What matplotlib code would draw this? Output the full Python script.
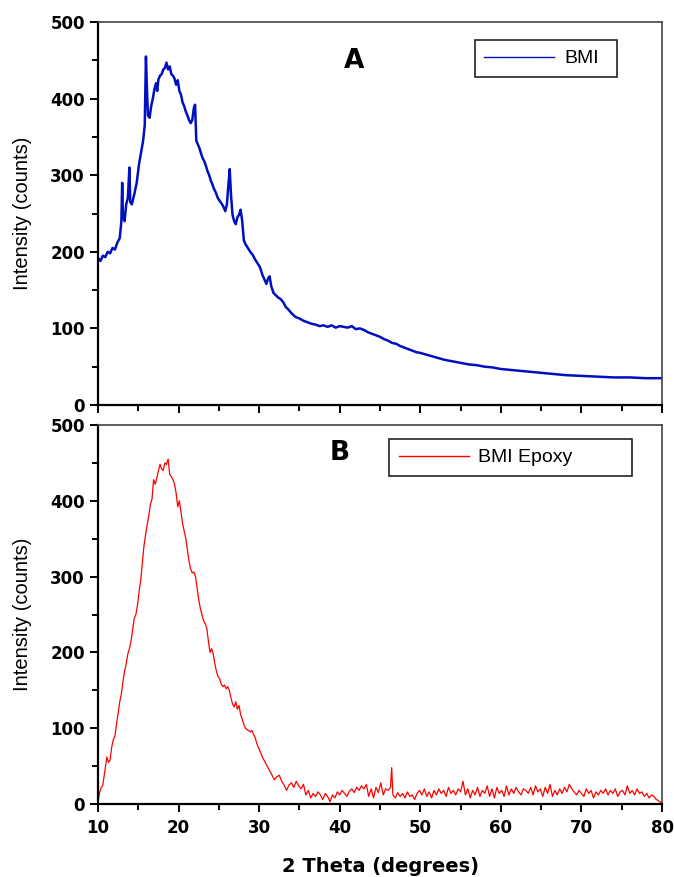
import matplotlib.pyplot as plt
from matplotlib.ticker import MultipleLocator

# panel A: BMI
bmi_x = [10.0, 10.3, 10.6, 10.9, 11.2, 11.5, 11.8, 12.1, 12.4, 12.7, 12.9, 13.0, 13.1, 13.3, 13.5,
         13.7, 13.9, 14.0, 14.2, 14.5, 14.8, 15.1, 15.4, 15.6, 15.8, 15.95, 16.05, 16.2, 16.4, 16.6,
         16.8, 17.0, 17.2, 17.35, 17.5, 17.7, 17.9, 18.1, 18.3, 18.5, 18.7, 18.9, 19.1, 19.3, 19.5,
         19.7, 19.9, 20.1, 20.3, 20.5, 20.7, 20.9, 21.1, 21.3, 21.5, 21.7, 21.9, 22.05, 22.2, 22.4,
         22.6, 22.8, 23.0, 23.2, 23.4, 23.6, 23.8, 24.0, 24.2, 24.4, 24.6, 24.8, 25.0, 25.2, 25.4,
         25.6, 25.8, 26.0, 26.2, 26.35, 26.5, 26.7, 26.9, 27.1, 27.3, 27.5, 27.7, 27.9, 28.1, 28.3,
         28.6, 28.9, 29.2, 29.5, 29.8, 30.1, 30.4, 30.7, 30.9, 31.1, 31.3, 31.5, 31.8, 32.1, 32.4,
         32.7, 33.0, 33.3, 33.6, 34.0, 34.5, 35.0, 35.5, 36.0, 36.5, 37.0, 37.5, 38.0, 38.5, 39.0,
         39.5, 40.0, 40.5, 41.0, 41.5, 42.0, 42.5, 43.0, 43.5, 44.0, 44.5, 45.0, 45.5, 46.0, 46.5,
         47.0, 47.5, 48.0, 48.5, 49.0, 49.5, 50.0, 51, 52, 53, 54, 55, 56, 57, 58, 59, 60, 62, 64,
         66, 68, 70, 72, 74, 76, 78, 80]
bmi_y = [192, 188, 195, 193, 200, 198, 205, 203, 212, 218, 240, 290, 245, 240, 262,
         270, 310, 265, 262, 275, 290, 315, 333, 345, 365, 455, 420, 378, 375, 390,
         400, 412, 420, 410, 425, 430, 432, 438, 440, 447, 438, 442, 432, 430, 426,
         418, 424, 410, 405, 395, 390, 383, 378, 372, 368, 372, 388, 392, 345, 340,
         335, 328, 322, 318, 312, 305, 300, 293, 288, 282, 278, 272, 268, 265, 262,
         258, 253, 262, 290, 308, 275, 248, 240, 236, 245, 248, 255, 240, 215, 210,
         205, 200, 196, 190, 185, 180, 170, 163, 158, 165, 168, 155, 146, 143, 140,
         138, 134, 128, 125, 120, 115, 113, 110, 108, 106, 105, 103, 104, 102, 104,
         101, 103, 102, 101, 103, 99, 100, 98, 95, 93, 91, 89, 86, 84, 81,
         80, 77, 75, 73, 71, 69, 68, 65, 62, 59, 57, 55, 53, 52, 50, 49, 47, 45, 43,
         41, 39, 38, 37, 36, 36, 35, 35]

# panel B: BMI Epoxy
epx_x = [10.0, 10.2, 10.4, 10.6, 10.8, 11.0, 11.1, 11.3, 11.5, 11.7, 11.9, 12.1, 12.3, 12.5, 12.7,
         12.9, 13.1, 13.3, 13.5, 13.7, 13.9, 14.1, 14.3, 14.5, 14.7, 14.9, 15.1, 15.3, 15.5, 15.7,
         15.9, 16.1, 16.3, 16.5, 16.7, 16.9, 17.1, 17.3, 17.5, 17.7, 17.9, 18.1, 18.3, 18.5, 18.7,
         18.9, 19.1, 19.3, 19.5, 19.7, 19.9, 20.1, 20.3, 20.5, 20.7, 20.9, 21.1, 21.3, 21.5, 21.7,
         21.9, 22.1, 22.3, 22.5, 22.7, 22.9, 23.1, 23.3, 23.5, 23.7, 23.9, 24.1, 24.3, 24.5, 24.7,
         24.9, 25.1, 25.3, 25.5, 25.7, 25.9, 26.1, 26.3, 26.5, 26.7, 26.9, 27.1, 27.3, 27.5, 27.7,
         27.9, 28.1, 28.3, 28.5, 28.7, 28.9, 29.1, 29.3, 29.5, 29.7, 29.9, 30.1, 30.4, 30.7, 31.0,
         31.3, 31.6, 31.9, 32.2, 32.5, 32.8, 33.1, 33.4, 33.7, 34.0, 34.3, 34.6, 34.9, 35.2, 35.5,
         35.8, 36.1, 36.4, 36.7, 37.0, 37.3, 37.6, 37.9, 38.2, 38.5, 38.8, 39.1, 39.4, 39.7, 40.0,
         40.3, 40.6, 40.9, 41.2, 41.5, 41.8, 42.1, 42.4, 42.7, 43.0, 43.3, 43.6, 43.9, 44.2, 44.5,
         44.8, 45.1, 45.4, 45.7, 46.0, 46.3, 46.45, 46.6, 46.9, 47.2, 47.5, 47.8, 48.1, 48.4, 48.7,
         49.0, 49.3, 49.6, 49.9, 50.2, 50.5, 50.8, 51.1, 51.4, 51.7, 52.0, 52.3, 52.6, 52.9, 53.2,
         53.5, 53.8, 54.1, 54.4, 54.7, 55.0, 55.3, 55.6, 55.9, 56.2, 56.5, 56.8, 57.1, 57.4, 57.7,
         58.0, 58.3, 58.6, 58.9, 59.2, 59.5, 59.8, 60.1, 60.4, 60.7, 61.0, 61.3, 61.6, 61.9, 62.2,
         62.5, 62.8, 63.1, 63.4, 63.7, 64.0, 64.3, 64.6, 64.9, 65.2, 65.5, 65.8, 66.1, 66.4, 66.7,
         67.0, 67.3, 67.6, 67.9, 68.2, 68.5, 68.8, 69.1, 69.4, 69.7, 70.0, 70.3, 70.6, 70.9, 71.2,
         71.5, 71.8, 72.1, 72.4, 72.7, 73.0, 73.3, 73.6, 73.9, 74.2, 74.5, 74.8, 75.1, 75.4, 75.7,
         76.0, 76.3, 76.6, 76.9, 77.2, 77.5, 77.8, 78.1, 78.4, 78.7, 79.0, 79.3, 79.6, 80.0]
epx_y = [2, 15, 22, 25, 40, 55, 62, 55, 58, 75, 85, 90, 105, 120, 135,
         145, 162, 175, 185, 198, 205, 215, 230, 245, 250, 262, 280, 295, 318, 340,
         355, 368, 380, 395, 402, 428, 422, 430, 440, 448, 442, 440, 450, 448, 455,
         435, 432, 428, 422, 410, 392, 400, 385, 370, 360, 350, 335, 320, 310, 305,
         306, 300, 285, 270, 258, 250, 242, 238, 232, 215, 200, 205, 198, 185, 175,
         168, 165, 158, 155, 157, 152, 155, 150, 140, 132, 128, 135, 125, 130, 118,
         112, 105, 100, 98, 97, 95, 97, 92, 88, 80, 75, 70, 62, 56, 50,
         44, 38, 32, 36, 38, 30, 25, 18, 25, 28, 22, 30, 24, 20, 26,
         12, 18, 8, 14, 10, 16, 12, 6, 14, 10, 3, 12, 8, 16, 12,
         18, 14, 10, 17, 20, 15, 22, 18, 24, 20, 26, 10, 20, 8, 22,
         15, 28, 12, 20, 18, 22, 48, 12, 8, 15, 10, 14, 8, 16, 10,
         12, 6, 14, 18, 12, 20, 10, 16, 8, 18, 12, 20, 14, 18, 10,
         22, 14, 18, 12, 20, 16, 30, 12, 20, 8, 18, 12, 22, 10, 18,
         14, 24, 10, 20, 8, 22, 14, 18, 10, 24, 12, 20, 14, 22, 16,
         12, 20, 18, 14, 22, 12, 24, 16, 20, 10, 22, 14, 26, 10, 18,
         12, 20, 14, 22, 16, 26, 20, 16, 12, 18, 14, 10, 20, 14, 18,
         8, 16, 12, 18, 14, 20, 12, 18, 14, 20, 10, 16, 18, 12, 24,
         14, 18, 12, 20, 14, 16, 10, 14, 8, 12, 10, 6, 4, 1]

num_font = ['Liberation Sans Narrow', 'DejaVu Sans']

fig = plt.figure(figsize=(6.74, 8.77), dpi=100)
ax1 = fig.add_axes([0.1454, 0.5382, 0.8368, 0.4367])
ax2 = fig.add_axes([0.1454, 0.0832, 0.8368, 0.4322])

ax1.plot(bmi_x, bmi_y, color='#0010C0', lw=1.8, label='BMI')
ax2.plot(epx_x, epx_y, color='#FF0000', lw=0.9, label='BMI Epoxy')

for ax in (ax1, ax2):
    ax.set_xlim(10, 80)
    ax.set_ylim(0, 500)
    ax.xaxis.set_major_locator(MultipleLocator(10))
    ax.xaxis.set_minor_locator(MultipleLocator(5))
    ax.yaxis.set_major_locator(MultipleLocator(100))
    ax.yaxis.set_minor_locator(MultipleLocator(50))
    ax.tick_params(which='major', direction='out', length=6, width=1.4)
    ax.tick_params(which='minor', direction='out', length=4, width=1.4)
    ax.tick_params(axis='x', pad=5)
    for s in ('left', 'bottom'):
        ax.spines[s].set_linewidth(1.6)
        ax.spines[s].set_color('black')
    for s in ('top', 'right'):
        ax.spines[s].set_linewidth(1.2)
        ax.spines[s].set_color('#444444')
    for lab in ax.get_yticklabels():
        lab.set_fontfamily(num_font)
        lab.set_fontweight('bold')
        lab.set_fontsize(12)
    ax.set_ylabel('Intensity (counts)', fontsize=14.5, family='Liberation Sans', labelpad=13)

ax1.tick_params(axis='x', labelbottom=False)
for lab in ax2.get_xticklabels():
    lab.set_fontfamily(num_font)
    lab.set_fontweight('bold')
    lab.set_fontsize(12)
ax2.set_xlabel('2 Theta (degrees)', fontsize=14, fontweight='bold', family=num_font, labelpad=14)

ax1.text(41.8, 449, 'A', fontsize=19, fontweight='heavy', family='DejaVu Sans', ha='center', va='center')
ax2.text(40.0, 463, 'B', fontsize=19, fontweight='heavy', family='DejaVu Sans', ha='center', va='center')

leg_kw = dict(frameon=True, fancybox=False, edgecolor='#222222', framealpha=1, mode='expand',
              handlelength=3.6, handletextpad=0.5, borderpad=0.5, borderaxespad=0,
              prop={'family': 'Liberation Sans', 'size': 14})
l1 = ax1.legend(loc='upper left', bbox_to_anchor=(0.668, 0.854, 0.252, 0.099), **leg_kw)
l2 = ax2.legend(loc='upper left', bbox_to_anchor=(0.516, 0.871, 0.431, 0.092), **leg_kw)
for leg in (l1, l2):
    leg.get_frame().set_linewidth(1.2)
    for ln in leg.get_lines():
        ln.set_linewidth(1.0)

fig.savefig('out.png', dpi=100)
